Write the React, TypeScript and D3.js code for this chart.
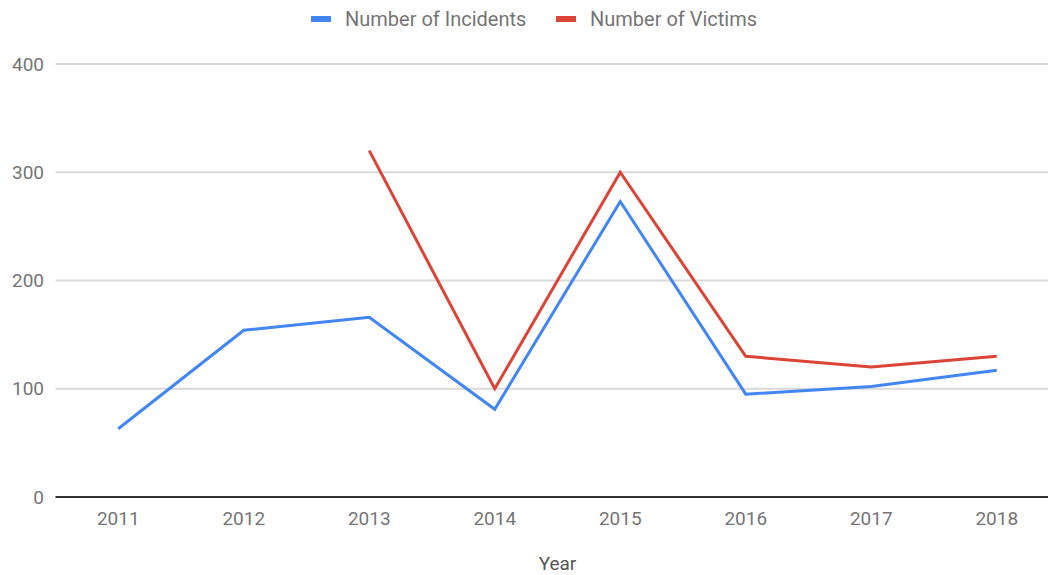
import { useEffect, useRef } from "react";
import * as d3 from "d3";

const years = ["2011", "2012", "2013", "2014", "2015", "2016", "2017", "2018"];
const incidents: (number | null)[] = [63, 154, 166, 81, 273, 95, 102, 117];
const victims: (number | null)[] = [null, null, 320, 100, 300, 130, 120, 130];
const yTicks = [0, 100, 200, 300, 400];

const seriesList = [
  { name: "Number of Incidents", values: incidents, color: "#4285f4" },
  { name: "Number of Victims", values: victims, color: "#db4437" },
];

export default function App() {
  const svgRef = useRef<SVGSVGElement>(null);

  useEffect(() => {
    const svg = d3.select(svgRef.current);
    svg.selectAll("*").remove();

    const font = "Roboto, Arial, sans-serif";
    const left = 55.5;
    const right = 1059.5;
    const top = 64;
    const bottom = 497;

    const x = d3.scalePoint<string>().domain(years).range([left, right]).padding(0.5);
    const y = d3.scaleLinear().domain([0, 400]).range([bottom, top]);

    // gridlines
    svg
      .append("g")
      .selectAll("line")
      .data(yTicks.filter((t) => t > 0))
      .join("line")
      .attr("x1", left)
      .attr("x2", right)
      .attr("y1", (d) => y(d))
      .attr("y2", (d) => y(d))
      .attr("stroke", "#d9d9d9")
      .attr("stroke-width", 2);

    // y labels
    svg
      .append("g")
      .selectAll("text")
      .data(yTicks)
      .join("text")
      .attr("x", 44)
      .attr("y", (d) => y(d))
      .attr("dy", "0.35em")
      .attr("text-anchor", "end")
      .attr("fill", "#757575")
      .style("font-family", font)
      .style("font-size", "19px")
      .text((d) => d);

    // lines
    const line = d3
      .line<number | null>()
      .defined((d) => d != null)
      .x((_, i) => x(years[i])!)
      .y((d) => y(d as number));

    seriesList.forEach((s) => {
      svg
        .append("path")
        .datum(s.values)
        .attr("fill", "none")
        .attr("stroke", s.color)
        .attr("stroke-width", 3)
        .attr("stroke-linejoin", "miter")
        .attr("d", line);
    });

    // x axis line
    svg
      .append("line")
      .attr("x1", left)
      .attr("x2", right)
      .attr("y1", bottom)
      .attr("y2", bottom)
      .attr("stroke", "#333333")
      .attr("stroke-width", 2);

    // x labels
    svg
      .append("g")
      .selectAll("text")
      .data(years)
      .join("text")
      .attr("x", (d) => x(d)!)
      .attr("y", 525)
      .attr("text-anchor", "middle")
      .attr("fill", "#757575")
      .style("font-family", font)
      .style("font-size", "19px")
      .text((d) => d);

    // x title
    svg
      .append("text")
      .attr("x", (left + right) / 2)
      .attr("y", 570)
      .attr("text-anchor", "middle")
      .attr("fill", "#555555")
      .style("font-family", font)
      .style("font-size", "19px")
      .text("Year");

    // legend
    const legendX = [311, 556];
    seriesList.forEach((s, i) => {
      const g = svg.append("g").attr("transform", `translate(${legendX[i]},19)`);
      g.append("rect")
        .attr("x", 0)
        .attr("y", -3)
        .attr("width", 20)
        .attr("height", 6)
        .attr("fill", s.color);
      g.append("text")
        .attr("x", 34)
        .attr("y", 0)
        .attr("dy", "0.35em")
        .attr("fill", "#757575")
        .style("font-family", font)
        .style("font-size", "20px")
        .text(s.name);
    });
  }, []);

  return (
    <svg
      ref={svgRef}
      width={1048}
      height={575}
      style={{ position: "absolute", left: 0, top: 0, background: "#fff" }}
    />
  );
}
